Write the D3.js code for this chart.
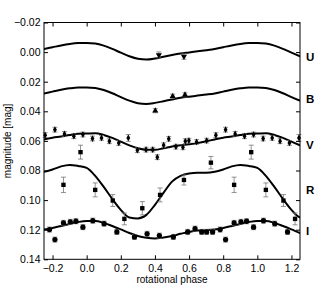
<!DOCTYPE html>
<html>
<head>
<meta charset="utf-8">
<script src="https://cdn.jsdelivr.net/npm/d3@7"></script>
<style>
  body { margin: 0; background: #fff; }
  svg { font-family: "Liberation Sans", Arial, sans-serif; }
</style>
</head>
<body>
<div id="main"></div>
<script>
var WIDTH = 332
var HEIGHT = 294

// model curves, one rotation period sampled every 0.05 in phase
var curvePhase = [0.00, 0.05, 0.10, 0.15, 0.20, 0.25, 0.30, 0.35, 0.40, 0.45,
                  0.50, 0.55, 0.60, 0.65, 0.70, 0.75, 0.80, 0.85, 0.90, 0.95]
var curveU = [-0.0062, -0.0058, -0.0044, -0.0022, 0.0004, 0.0028, 0.0045, 0.0050, 0.0043, 0.0031,
              0.0020, 0.0010, 0.0002, -0.0006, -0.0013, -0.0021, -0.0033, -0.0045, -0.0055, -0.0061]
var curveB = [0.0239, 0.0242, 0.0256, 0.0278, 0.0304, 0.0328, 0.0345, 0.0350, 0.0343, 0.0332,
              0.0320, 0.0309, 0.0301, 0.0294, 0.0287, 0.0279, 0.0267, 0.0255, 0.0245, 0.0239]
var curveV = [0.0550, 0.0548, 0.0560, 0.0580, 0.0605, 0.0630, 0.0650, 0.0660, 0.0660, 0.0650,
              0.0638, 0.0630, 0.0623, 0.0615, 0.0603, 0.0590, 0.0578, 0.0570, 0.0560, 0.0552]
var curveR = [0.0782, 0.0836, 0.0911, 0.0992, 0.1066, 0.1117, 0.1124, 0.1100, 0.1032, 0.0951,
              0.0875, 0.0836, 0.0820, 0.0815, 0.0815, 0.0809, 0.0793, 0.0772, 0.0762, 0.0769]
var curveI = [0.1141, 0.1141, 0.1154, 0.1175, 0.1198, 0.1222, 0.1242, 0.1254, 0.1259, 0.1252,
              0.1242, 0.1228, 0.1215, 0.1206, 0.1203, 0.1198, 0.1188, 0.1175, 0.1161, 0.1148]

// observations (phase, magnitude, error)
var uPhase = [0.423, 0.570]
var uMag = [0.0019, 0.0030]
var uErr = [0.0020, 0.0018]

var bPhase = [0.402, 0.504, 0.576]
var bMag = [0.0396, 0.0298, 0.0289]
var bErr = [0.0014, 0.0014, 0.0014]

var vPhase = [0.757, 0.814, 0.870, 0.925, 0.978, 0.034, 0.087, 0.133, 0.188, 0.244, 0.297,
              0.348, 0.387, 0.414, 0.451, 0.481, 0.523, 0.564, 0.578, 0.599, 0.644, 0.703]
var vMag = [0.0561, 0.0524, 0.0553, 0.0568, 0.0557, 0.0584, 0.0580, 0.0602, 0.0614, 0.0580, 0.0663,
            0.0659, 0.0659, 0.0710, 0.0629, 0.0586, 0.0639, 0.0643, 0.0602, 0.0598, 0.0607, 0.0598]
var vErr = [0.0016, 0.0016, 0.0016, 0.0016, 0.0016, 0.0016, 0.0016, 0.0016, 0.0016, 0.0023, 0.0016,
            0.0016, 0.0016, 0.0016, 0.0016, 0.0016, 0.0016, 0.0016, 0.0016, 0.0016, 0.0016, 0.0016]

var rPhase = [0.964, 0.864, 0.050, 0.153, 0.221, 0.326, 0.430, 0.570, 0.728]
var rMag = [0.0676, 0.0897, 0.0931, 0.1003, 0.1127, 0.1055, 0.0965, 0.0864, 0.0747]
var rErr = [0.0047, 0.0052, 0.0047, 0.0040, 0.0040, 0.0045, 0.0047, 0.0034, 0.0042]

var iPhase = [0.782, 0.814, 0.864, 0.904, 0.937, 0.978, 0.036, 0.102, 0.177,
              0.280, 0.354, 0.426, 0.508, 0.592, 0.635, 0.674, 0.703, 0.738]
var iMag = [0.1199, 0.1267, 0.1154, 0.1147, 0.1143, 0.1183, 0.1139, 0.1159, 0.1215,
            0.1249, 0.1228, 0.1240, 0.1249, 0.1215, 0.1193, 0.1215, 0.1215, 0.1215]
var iErr = [0.0017, 0.0017, 0.0017, 0.0017, 0.0017, 0.0017, 0.0017, 0.0017, 0.0017,
            0.0017, 0.0017, 0.0017, 0.0017, 0.0017, 0.0017, 0.0017, 0.0017, 0.0017]

var bandNames = ['U', 'B', 'V', 'R', 'I']
var bandLabelMag = [0.0030, 0.0318, 0.0630, 0.0933, 0.1208]

var xTicks = [-0.2, 0.0, 0.2, 0.4, 0.6, 0.8, 1.0, 1.2]
var yTicks = [-0.02, 0.00, 0.02, 0.04, 0.06, 0.08, 0.10, 0.12, 0.14]

var margin = { left: 44, right: 32, top: 22.5, bottom: 34.7 }
var w = WIDTH - margin.left - margin.right
var h = HEIGHT - margin.top - margin.bottom

var x = d3.scaleLinear().domain([-0.25, 1.25]).range([0, w])
var y = d3.scaleLinear().domain([-0.02, 0.14]).range([0, h])

const svg = d3.select('#main').append('svg')
    .attr('width', WIDTH)
    .attr('height', HEIGHT)

svg.append('defs').append('clipPath').attr('id', 'clip')
    .append('rect').attr('width', w).attr('height', h)

var g = svg.append('g')
    .attr('transform', 'translate(' + margin.left + ',' + margin.top + ')')

// repeat one period over the whole phase window
function wrapCurve(vals) {
    var pts = []
    for (var k = -1; k <= 1; k++) {
        curvePhase.forEach(function (p, i) {
            var ph = p + k
            if (ph > -0.4 && ph < 1.4) pts.push([ph, vals[i]])
        })
    }
    return pts
}
function wrapPoints(ph, mag, err) {
    var pts = []
    for (var k = -1; k <= 1; k++) {
        ph.forEach(function (p, i) {
            var q = p + k
            if (q >= -0.25 && q <= 1.25) pts.push({ p: q, m: mag[i], e: err[i] })
        })
    }
    return pts
}

var line = d3.line()
    .x(d => x(d[0]))
    .y(d => y(d[1]))
    .curve(d3.curveMonotoneX)

var curves = [curveU, curveB, curveV, curveR, curveI]
var plot = g.append('g').attr('clip-path', 'url(#clip)')

plot.selectAll('path.model')
    .data(curves)
    .enter()
    .append('path')
    .attr('class', 'model')
    .attr('d', d => line(wrapCurve(d)))
    .attr('fill', 'none')
    .attr('stroke', '#000')
    .attr('stroke-width', 2)

var obs = [
    { pts: wrapPoints(uPhase, uMag, uErr), sym: d3.symbolTriangle, size: 16, rot: 180 },
    { pts: wrapPoints(bPhase, bMag, bErr), sym: d3.symbolTriangle, size: 16, rot: 0 },
    { pts: wrapPoints(vPhase, vMag, vErr), sym: d3.symbolDiamond, size: 13, rot: 0 },
    { pts: wrapPoints(rPhase, rMag, rErr), sym: d3.symbolSquare, size: 19, rot: 0 },
    { pts: wrapPoints(iPhase, iMag, iErr), sym: d3.symbolCircle, size: 22, rot: 0 }
]

obs.forEach(function (s) {
    var eb = g.append('g')
    s.pts.forEach(function (d) {
        var cx = x(d.p), y0 = y(d.m - d.e), y1 = y(d.m + d.e)
        eb.append('line').attr('x1', cx).attr('x2', cx).attr('y1', y0).attr('y2', y1)
        eb.append('line').attr('x1', cx - 2.5).attr('x2', cx + 2.5).attr('y1', y0).attr('y2', y0)
        eb.append('line').attr('x1', cx - 2.5).attr('x2', cx + 2.5).attr('y1', y1).attr('y2', y1)
    })
    eb.selectAll('line').attr('stroke', '#777').attr('stroke-width', 0.8)

    g.append('g').selectAll('path')
        .data(s.pts)
        .enter()
        .append('path')
        .attr('d', d3.symbol().type(s.sym).size(s.size))
        .attr('transform', d => 'translate(' + x(d.p) + ',' + y(d.m) + ') rotate(' + s.rot + ')')
        .attr('fill', '#000')
})

// axes, ticks pointing inward on all four sides
var fmtX = d3.format('.1f')
var fmtY = d3.format('.2f')

g.append('g').attr('transform', 'translate(0,' + h + ')')
    .call(d3.axisBottom(x).tickValues(xTicks).tickFormat(fmtX).tickSizeInner(-4).tickSizeOuter(0).tickPadding(5))
g.append('g')
    .call(d3.axisTop(x).tickValues(xTicks).tickFormat('').tickSizeInner(-4).tickSizeOuter(0))
g.append('g')
    .call(d3.axisLeft(y).tickValues(yTicks).tickFormat(fmtY).tickSizeInner(-4).tickSizeOuter(0).tickPadding(3.5))
g.append('g').attr('transform', 'translate(' + w + ',0)')
    .call(d3.axisRight(y).tickValues(yTicks).tickFormat('').tickSizeInner(-4).tickSizeOuter(0))

g.selectAll('.domain').remove()
g.selectAll('.tick text').attr('font-size', 10.5).attr('fill', '#000')
    .style('font-family', '"Liberation Sans", Arial, sans-serif')
g.selectAll('.tick line').attr('stroke', '#000')

g.append('rect')
    .attr('width', w).attr('height', h)
    .attr('fill', 'none').attr('stroke', '#000').attr('stroke-width', 1)

// band labels
g.selectAll('text.band')
    .data(bandNames)
    .enter()
    .append('text')
    .attr('class', 'band')
    .attr('x', w + 6)
    .attr('y', (d, i) => y(bandLabelMag[i]))
    .attr('dy', '0.36em')
    .attr('font-size', 11.5)
    .attr('font-weight', 'bold')
    .text(d => d)

svg.append('text')
    .attr('x', margin.left + w / 2)
    .attr('y', 283)
    .attr('text-anchor', 'middle')
    .attr('font-size', 10)
    .text('rotational phase')

svg.append('text')
    .attr('transform', 'translate(10.5,' + (margin.top + h / 2) + ') rotate(-90)')
    .attr('text-anchor', 'middle')
    .attr('font-size', 10)
    .text('magnitude [mag]')
</script>
</body>
</html>
